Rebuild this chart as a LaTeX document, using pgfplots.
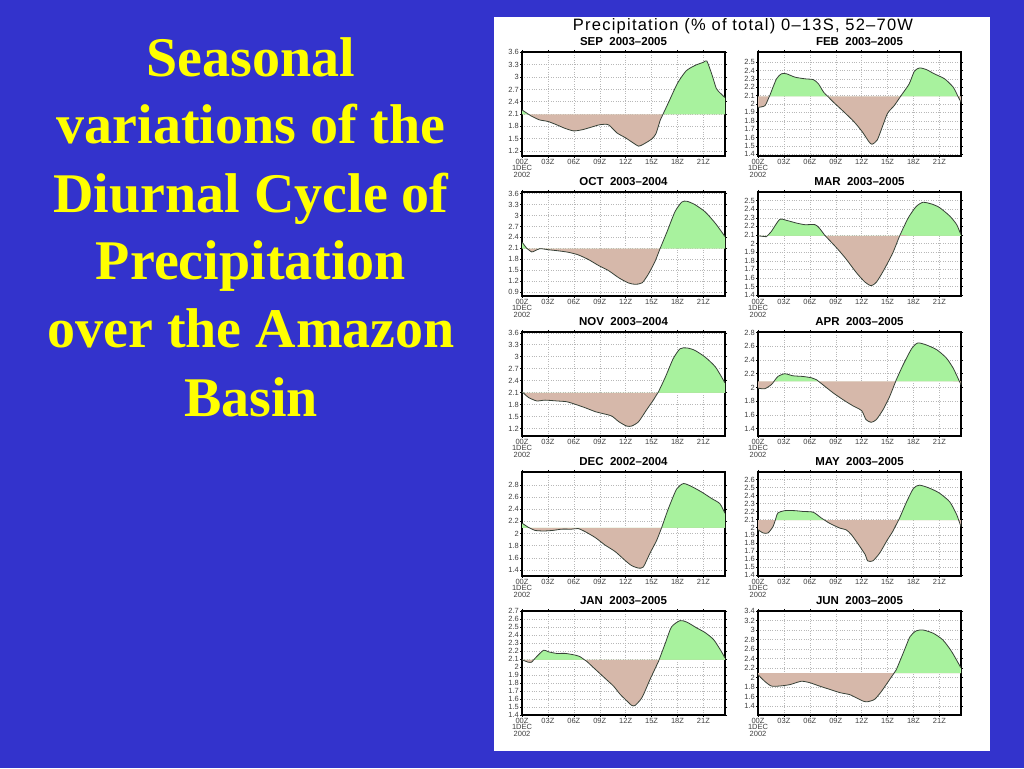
\documentclass[border=0pt]{standalone}
\usepackage{fontspec}
\setmainfont{Liberation Serif}
\newfontfamily\plotsans{Liberation Sans}
\newfontfamily\titlesans[LetterSpace=7.5]{Liberation Sans}
\usepackage{pgfplots}
\pgfplotsset{compat=1.18}
\usepackage{pgfplotstable}

\definecolor{bg}{RGB}{51,51,204}
\definecolor{ttl}{RGB}{255,255,0}
\definecolor{pgreen}{RGB}{168,242,158}
\definecolor{psalmon}{RGB}{214,184,170}
\definecolor{curvec}{RGB}{55,65,55}

% diurnal cycle, hour (UTC) and % of daily total
\pgfplotstableread{
h v
0 2.20
0.79 2.09
1 2.06
2 1.96
3 1.92
4 1.84
5 1.75
6 1.69
7 1.72
8 1.78
9 1.84
10 1.84
11 1.64
12 1.52
13 1.38
13.5 1.32
14 1.36
15 1.49
15.5 1.62
16 1.95
16.31 2.09
17 2.40
18 2.85
19 3.15
20 3.28
21 3.36
21.4 3.39
22 3.05
22.5 2.72
23 2.60
23.5 2.50
}\sepdata
\pgfplotstableread{
h v
0 1.96
0.8 1.98
1.31 2.09
1.36 2.10
2.14 2.30
2.72 2.36
3.3 2.36
4.28 2.32
5.45 2.30
6.42 2.29
7.0 2.24
7.6 2.14
8.08 2.09
8.75 2.02
9.9 1.91
11.1 1.79
12.06 1.67
12.84 1.55
13.2 1.52
13.8 1.57
14.4 1.73
15.0 1.89
15.76 1.98
16.5 2.09
16.7 2.12
17.5 2.24
18.1 2.39
18.7 2.43
19.5 2.41
20.4 2.36
21.6 2.30
22.6 2.20
23.15 2.09
23.5 2.02
}\febdata
\pgfplotstableread{
h v
0 2.27
0.54 2.10
0.60 2.09
1.12 2.00
1.5 2.03
2.08 2.09
3.05 2.06
4.2 2.03
5.37 1.99
6.5 1.92
7.7 1.79
8.84 1.63
10.0 1.49
11.2 1.29
12.3 1.15
13.1 1.11
13.9 1.15
14.6 1.38
15.4 1.74
15.98 2.09
16.0 2.10
16.8 2.56
17.7 3.10
18.5 3.37
19.1 3.39
20.0 3.30
21.2 3.10
22.4 2.78
23.5 2.42
}\octdata
\pgfplotstableread{
h v
0 2.09
0.97 2.08
1.07 2.09
1.54 2.14
2.5 2.28
3.3 2.27
4.4 2.24
5.4 2.22
6.6 2.22
7.1 2.18
7.7 2.10
7.79 2.09
9.1 1.95
10.2 1.82
11.4 1.66
12.4 1.55
13.1 1.51
13.7 1.55
14.5 1.68
15.6 1.89
16.4 2.09
17.4 2.30
18.3 2.43
19.1 2.48
20.1 2.46
21.0 2.42
22.2 2.32
23.0 2.22
23.5 2.10
}\mardata
\pgfplotstableread{
h v
0 2.12
0.16 2.09
0.73 1.98
1.7 1.89
2.66 1.91
4.0 1.89
5.17 1.87
6.1 1.81
7.3 1.72
8.5 1.62
9.6 1.56
10.4 1.51
11.2 1.37
12.1 1.26
12.7 1.26
13.5 1.37
14.4 1.66
15.2 1.91
15.71 2.09
15.8 2.12
16.6 2.49
17.5 2.95
18.3 3.20
19.1 3.22
20.0 3.16
21.2 2.99
22.4 2.74
23.5 2.34
}\novdata
\pgfplotstableread{
h v
0 1.99
0.77 1.98
1.54 2.04
1.86 2.09
2.3 2.16
3.1 2.20
4.05 2.17
5.2 2.16
6.2 2.14
6.8 2.11
7.0 2.09
7.5 2.04
8.7 1.92
9.85 1.82
11.0 1.73
12.0 1.66
12.5 1.53
13.1 1.49
13.7 1.53
14.5 1.68
15.25 1.87
15.94 2.09
16.0 2.11
16.8 2.33
17.8 2.57
18.5 2.65
19.5 2.62
20.7 2.55
21.8 2.43
22.6 2.28
23.31 2.09
23.5 2.04
}\aprdata
\pgfplotstableread{
h v
0 2.17
0.73 2.10
0.88 2.09
1.5 2.05
2.5 2.04
3.6 2.05
4.6 2.07
5.75 2.07
6.5 2.08
7.3 2.03
8.5 1.93
9.6 1.81
10.8 1.70
11.9 1.56
12.7 1.47
13.5 1.43
14.05 1.45
14.8 1.67
15.6 1.89
16.15 2.09
16.2 2.11
16.95 2.41
17.9 2.73
18.7 2.82
19.65 2.77
20.8 2.68
22.0 2.57
22.9 2.49
23.5 2.33
}\decdata
\pgfplotstableread{
h v
0 1.97
0.6 1.93
1.16 1.93
1.74 2.01
2.0 2.09
2.3 2.18
3.1 2.21
4.25 2.21
5.2 2.20
6.4 2.19
7.3 2.12
7.73 2.09
8.3 2.05
9.5 1.99
10.2 1.97
10.8 1.91
11.6 1.79
12.4 1.66
12.7 1.58
13.3 1.58
14.1 1.68
14.9 1.83
15.6 1.95
16.26 2.09
16.4 2.12
17.2 2.32
18.0 2.49
18.7 2.53
19.9 2.49
21.0 2.43
22.2 2.32
23.0 2.16
23.23 2.09
23.5 2.01
}\maydata
\pgfplotstableread{
h v
0 2.09
0.73 2.06
1.1 2.06
1.36 2.09
1.7 2.13
2.5 2.21
3.05 2.19
4.0 2.17
5.0 2.17
6.1 2.15
6.7 2.13
7.23 2.09
7.5 2.07
8.5 1.97
9.6 1.86
10.6 1.76
11.35 1.66
12.1 1.58
12.7 1.52
13.1 1.52
13.9 1.62
14.8 1.84
15.8 2.07
15.87 2.09
16.6 2.30
17.3 2.50
18.3 2.58
19.1 2.56
20.2 2.49
21.2 2.43
22.2 2.34
23.1 2.19
23.5 2.11
}\jandata
\pgfplotstableread{
h v
0 2.06
0.77 1.92
1.54 1.82
2.5 1.82
3.7 1.85
5.0 1.92
6.0 1.89
7.1 1.82
8.3 1.75
9.5 1.68
10.6 1.64
11.4 1.57
12.2 1.50
12.7 1.49
13.5 1.54
14.3 1.71
15.25 1.96
15.74 2.09
16.0 2.16
16.8 2.51
17.6 2.86
18.3 2.98
19.1 3.00
20.3 2.93
21.4 2.79
22.4 2.55
23.5 2.20
}\jundata

\newcommand{\baseval}{2.09}

\pgfplotsset{
  panel/.style={
    scale only axis, width=203pt, height=104pt,
    anchor=north west,
    xmin=0, xmax=23.5,
    xtick={0,3,6,9,12,15,18,21},
    xticklabels={{00Z\\1DEC\\2002},03Z,06Z,09Z,12Z,15Z,18Z,21Z},
    xticklabel style={align=center, inner sep=1pt, text=black!75},
    yticklabel style={inner sep=1pt, text=black!75},
    tick label style={font=\plotsans\fontsize{7.5}{6.5}\selectfont},
    /pgf/number format/assume math mode=true,
    tick align=outside, major tick length=2pt,
    tick style={black, line width=0.5pt},
    grid=major, grid style={dotted, black!28, line width=0.5pt},
    axis line style={line width=1.3pt},
    title style={font=\plotsans\bfseries\fontsize{11.5}{11.5}\selectfont, yshift=-3.5pt},
  },
}

\newcommand{\panel}[7]{%
\begin{axis}[panel, at={(#1,#2)}, ymin=#4, ymax=#5, ytick={#6}, title={#7}]
\addplot[fill=pgreen, draw=none, smooth, tension=0.4] table[x=h, y expr={max(\thisrow{v},\baseval)}] {#3}
  -- (axis cs:23.5,\baseval) -- (axis cs:0,\baseval) -- cycle;
\addplot[fill=psalmon, draw=none, smooth, tension=0.4] table[x=h, y expr={min(\thisrow{v},\baseval)}] {#3}
  -- (axis cs:23.5,\baseval) -- (axis cs:0,\baseval) -- cycle;
\addplot[curvec, line width=0.8pt, smooth, tension=0.4] table[x=h, y=v] {#3};
\end{axis}}

\begin{document}
\begin{tikzpicture}
\fill[bg] (0pt,0pt) rectangle (1024pt,768pt);
\fill[white] (494pt,17pt) rectangle (990pt,751pt);

\begin{scope}[every node/.style={anchor=base, text=ttl, font=\bfseries\fontsize{56}{56}\selectfont, inner sep=0pt}]
\node at (251pt,691pt) {Seasonal};
\node at (251pt,624pt) {variations of the};
\node at (251pt,555pt) {Diurnal Cycle of};
\node at (251pt,488pt) {Precipitation};
\node at (251pt,420pt) {over the Amazon};
\node at (251pt,351pt) {Basin};
\end{scope}

\node[font=\titlesans\fontsize{16.5}{16.5}\selectfont, inner sep=0pt, anchor=base] at (743pt,737.5pt) {Precipitation (\% of total) 0–13S, 52–70W};

\panel{522pt}{716pt}{\sepdata}{1.08}{3.61}{1.2,1.5,1.8,2.1,2.4,2.7,3,3.3,3.6}{SEP\ \ 2003–2005}
\panel{758pt}{716pt}{\febdata}{1.38}{2.62}{1.4,1.5,1.6,1.7,1.8,1.9,2,2.1,2.2,2.3,2.4,2.5}{FEB\ \ 2003–2005}
\panel{522pt}{576pt}{\octdata}{0.79}{3.645}{0.9,1.2,1.5,1.8,2.1,2.4,2.7,3,3.3,3.6}{OCT\ \ 2003–2004}
\panel{758pt}{576pt}{\mardata}{1.39}{2.6}{1.4,1.5,1.6,1.7,1.8,1.9,2,2.1,2.2,2.3,2.4,2.5}{MAR\ \ 2003–2005}
\panel{522pt}{436pt}{\novdata}{1.01}{3.62}{1.2,1.5,1.8,2.1,2.4,2.7,3,3.3,3.6}{NOV\ \ 2003–2004}
\panel{758pt}{436pt}{\aprdata}{1.29}{2.81}{1.4,1.6,1.8,2,2.2,2.4,2.6,2.8}{APR\ \ 2003–2005}
\panel{522pt}{296pt}{\decdata}{1.30}{3.01}{1.4,1.6,1.8,2,2.2,2.4,2.6,2.8}{DEC\ \ 2002–2004}
\panel{758pt}{296pt}{\maydata}{1.39}{2.695}{1.4,1.5,1.6,1.7,1.8,1.9,2,2.1,2.2,2.3,2.4,2.5,2.6}{MAY\ \ 2003–2005}
\panel{522pt}{157pt}{\jandata}{1.4}{2.7}{1.4,1.5,1.6,1.7,1.8,1.9,2,2.1,2.2,2.3,2.4,2.5,2.6,2.7}{JAN\ \ 2003–2005}
\panel{758pt}{157pt}{\jundata}{1.21}{3.4}{1.4,1.6,1.8,2,2.2,2.4,2.6,2.8,3,3.2,3.4}{JUN\ \ 2003–2005}
\end{tikzpicture}
\end{document}
